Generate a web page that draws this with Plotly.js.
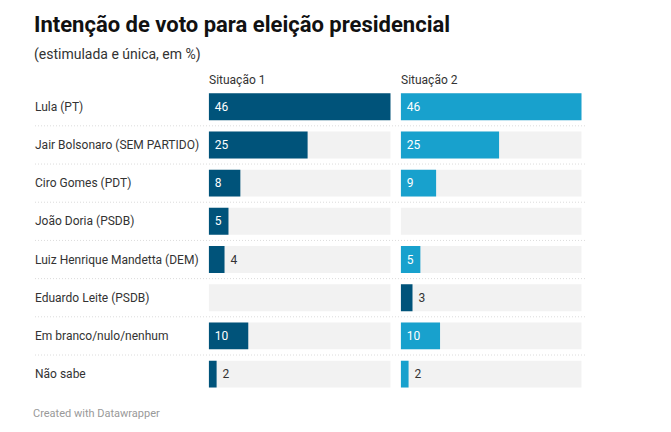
<!DOCTYPE html>
<html><head><meta charset="utf-8">
<script src="https://cdn.plot.ly/plotly-3.0.1.min.js"></script>
<style>html,body{margin:0;padding:0;background:#fff}</style>
</head><body><div id="chart" style="width:671px;height:432px"></div>
<script>
const categories = ["Lula (PT)", "Jair Bolsonaro (SEM PARTIDO)", "Ciro Gomes (PDT)", "João Doria (PSDB)", "Luiz Henrique Mandetta (DEM)", "Eduardo Leite (PSDB)", "Em branco/nulo/nenhum", "Não sabe"];
const situacao1 = [46, 25, 8, 5, 4, null, 10, 2];
const situacao2 = [46, 25, 9, null, 5, 3, 10, 2];
const columnTitles = ["Situação 1", "Situação 2"];
const maxValue = 46;
const highlighted2 = "Eduardo Leite (PSDB)";

const W = 671, H = 432;
const px = v => v / W;
const py = v => 1 - v / H;
const DARK = '#00537a', LIGHT = '#18a1cd', BG = '#f2f2f2';
const FONT = 'Roboto, "Noto Sans", sans-serif';
const BARW = 0.705;

function bgTrace(xa) {
  return {type: 'bar', orientation: 'h', y: categories, x: categories.map(() => maxValue),
    xaxis: xa, yaxis: 'y', marker: {color: BG}, width: BARW, hoverinfo: 'skip', showlegend: false};
}
function fgTrace(xa, vals, colors) {
  return {type: 'bar', orientation: 'h', y: categories, x: vals, xaxis: xa, yaxis: 'y',
    marker: {color: colors}, width: BARW, showlegend: false,
    text: vals.map(v => v == null ? '' : '\u00a0' + String(v)),
    textposition: vals.map(v => (v != null && v >= 5) ? 'inside' : 'outside'),
    insidetextanchor: 'start', textangle: 0, constraintext: 'none', cliponaxis: false,
    insidetextfont: {family: FONT, size: 12, color: '#ffffff'},
    outsidetextfont: {family: FONT, size: 12, color: '#333333'}};
}

const traces = [
  bgTrace('x'), fgTrace('x', situacao1, DARK),
  bgTrace('x2'), fgTrace('x2', situacao2, categories.map(c => c === highlighted2 ? DARK : LIGHT))
];

const shapes = [];
for (let i = 0; i < categories.length - 1; i++) {
  shapes.push({type: 'line', xref: 'paper', x0: px(35), x1: px(586), yref: 'y', y0: i + 0.5, y1: i + 0.5,
    line: {color: '#dcdcdc', width: 1, dash: '1px,2px'}});
}

const annotations = categories.map(c => ({xref: 'paper', x: px(32.5), xanchor: 'left', yref: 'y', y: c,
  text: c, showarrow: false, font: {family: FONT, size: 12, color: '#333333'}}));
annotations.push({xref: 'x domain', x: 0, xshift: -1.5, xanchor: 'left', yref: 'paper', y: py(80.5), yanchor: 'middle',
  text: columnTitles[0], showarrow: false, font: {family: FONT, size: 12, color: '#333333'}});
annotations.push({xref: 'x2 domain', x: 0, xshift: -1.5, xanchor: 'left', yref: 'paper', y: py(80.5), yanchor: 'middle',
  text: columnTitles[1], showarrow: false, font: {family: FONT, size: 12, color: '#333333'}});
annotations.push({xref: 'paper', x: px(32), xanchor: 'left', yref: 'paper', y: py(54), yanchor: 'middle',
  text: '(estimulada e única, em %)', showarrow: false, font: {family: FONT, size: 14, color: '#333333'}});
annotations.push({xref: 'paper', x: px(30.5), xanchor: 'left', yref: 'paper', y: py(413.5), yanchor: 'middle',
  text: 'Created with Datawrapper', showarrow: false, font: {family: FONT, size: 11, color: '#999999'}});

const axisX = {range: [0, maxValue], fixedrange: true, showgrid: false, zeroline: false, showticklabels: false, ticks: '', showline: false};
const layout = {
  width: W, height: H, margin: {l: 0, r: 0, t: 0, b: 0},
  paper_bgcolor: '#ffffff', plot_bgcolor: 'rgba(0,0,0,0)',
  barmode: 'overlay', showlegend: false,
  title: {text: 'Intenção de voto para eleição presidencial', x: px(34), xanchor: 'left', xref: 'paper',
    yref: 'container', y: py(24.5), yanchor: 'middle',
    font: {family: FONT, size: 22, weight: 700, color: '#111111'}},
  xaxis: Object.assign({domain: [px(208.7), px(390.7)], anchor: 'y'}, axisX),
  xaxis2: Object.assign({domain: [px(400.7), px(581.7)], anchor: 'y'}, axisX),
  yaxis: {type: 'category', autorange: false, range: [categories.length - 0.5, -0.5],
    domain: [py(393.2), py(87.65)], showgrid: false, zeroline: false, showticklabels: false, ticks: '', fixedrange: true},
  shapes: shapes, annotations: annotations
};
Plotly.newPlot('chart', traces, layout, {staticPlot: true, displayModeBar: false});
</script></body></html>
